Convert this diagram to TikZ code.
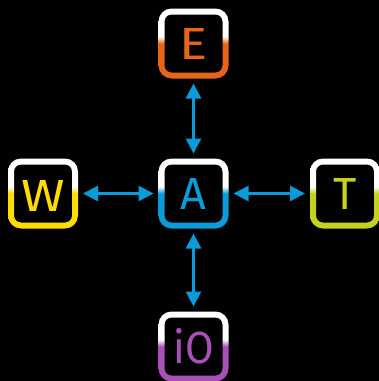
\documentclass[tikz,border=0pt]{standalone}
\usepackage{fontspec}
\setmainfont{Fira Sans}
\newfontfamily\narrowkey[FakeStretch=0.92]{Fira Sans}
\newfontfamily\widekey[FakeStretch=1.17]{Fira Sans}
\usetikzlibrary{arrows.meta}
\definecolor{keye}{HTML}{E8641B}
\definecolor{keyw}{HTML}{FFDD00}
\definecolor{keya}{HTML}{0A9BD8}
\definecolor{keyt}{HTML}{C4D21F}
\definecolor{keyi}{HTML}{A94FB8}
\pgfdeclareverticalshading[keycol]{keyring}{100bp}{color(0bp)=(keycol); color(50bp)=(keycol); color(55bp)=(white); color(100bp)=(white)}
\tikzset{
  keybox/.style={minimum width=70pt,minimum height=70pt,inner sep=0pt,outer sep=0pt,font=\fontsize{45}{45}\selectfont},
  link/.style={draw=keya,line width=2.5pt,{Triangle[length=15pt,width=15pt]}-{Triangle[length=15pt,width=15pt]},shorten >=5pt,shorten <=5pt}
}
\newcommand{\keyring}[2]{%
  \colorlet{keycol}{#2}%
  \shade[shading=keyring,even odd rule]
    [rounded corners=13pt] (#1.south west) rectangle (#1.north east)
    [rounded corners=7pt] ([shift={(6pt,6pt)}]#1.south west) rectangle ([shift={(-6pt,-6pt)}]#1.north east);
}
\begin{document}
\begin{tikzpicture}[x=1pt,y=1pt]
\useasboundingbox[fill=black] (0,0) rectangle (379,-381);
\node[keybox,text=keye] (e) at (193.5,-43.5) {\widekey E};
\node[keybox,text=keyw,text height=36pt,text depth=-4pt] (w) at (43,-193.5) {\widekey W};
\node[keybox,text=keya] (a) at (193.5,-193.5) {A};
\node[keybox,text=keyt] (t) at (345,-193.5) {T};
\node[keybox,text=keyi] (i) at (193.5,-346.5) {\narrowkey iO};
\keyring{e}{keye}
\keyring{w}{keyw}
\keyring{a}{keya}
\keyring{t}{keyt}
\keyring{i}{keyi}
\draw[link] (e) -- (a);
\draw[link] (a) -- (i);
\draw[link] (w) -- (a);
\draw[link] (a) -- (t);
\end{tikzpicture}
\end{document}
